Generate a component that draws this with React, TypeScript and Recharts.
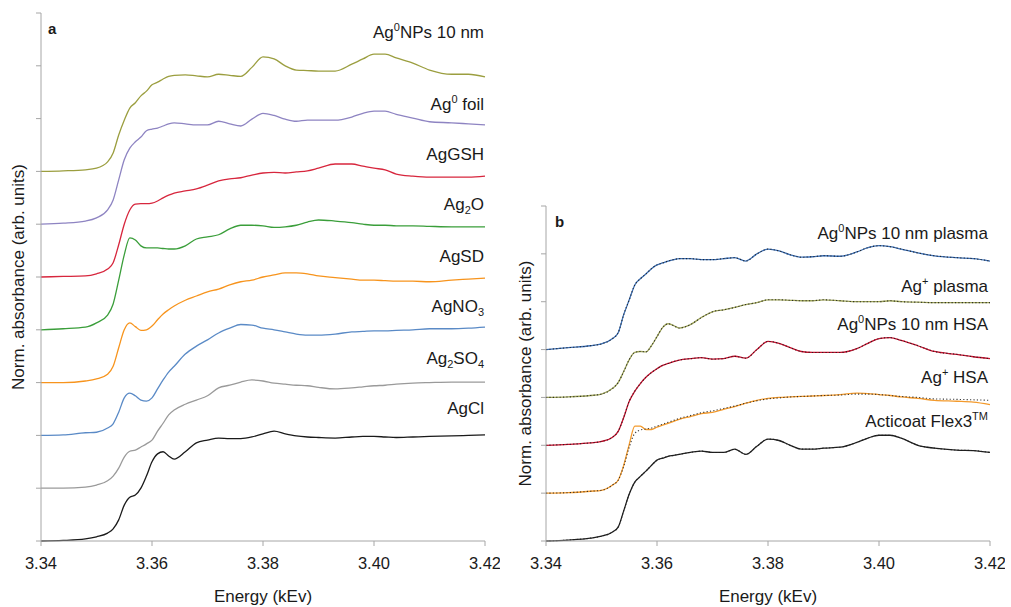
import React from "react";
import { LineChart, Line, XAxis, YAxis } from "recharts";

// energy grid (keV), shared by every spectrum
const energy = [
  3.34, 3.344, 3.348, 3.35, 3.352, 3.353, 3.354, 3.355, 3.356, 3.357, 3.358, 3.359, 3.36, 3.361,
  3.362, 3.363, 3.364, 3.366, 3.368, 3.37, 3.372, 3.374, 3.376, 3.378, 3.38, 3.382, 3.384, 3.386,
  3.388, 3.39, 3.393, 3.396, 3.398, 3.4, 3.402, 3.404, 3.407, 3.41, 3.414, 3.417, 3.42,
];

const energyTicks = [3.34, 3.36, 3.38, 3.4, 3.42];

// panel a: reference compounds (normalised absorbance)
const agNPs = [0, 0.01, 0.03, 0.06, 0.18, 0.35, 0.69, 0.97, 1.2, 1.3, 1.43, 1.52, 1.64, 1.69, 1.75, 1.8, 1.82, 1.83, 1.81, 1.79, 1.84, 1.82, 1.8, 1.97, 2.17, 2.13, 2.0, 1.92, 1.91, 1.9, 1.9, 2.03, 2.13, 2.22, 2.22, 2.15, 2.05, 1.92, 1.84, 1.84, 1.79];
const agFoil = [0, 0.02, 0.06, 0.12, 0.27, 0.46, 0.84, 1.22, 1.44, 1.56, 1.65, 1.77, 1.8, 1.82, 1.86, 1.9, 1.92, 1.9, 1.88, 1.88, 1.95, 1.9, 1.86, 1.99, 2.1, 2.06, 1.99, 1.95, 1.97, 1.97, 1.97, 2.03, 2.1, 2.14, 2.14, 2.08, 2.01, 1.94, 1.92, 1.9, 1.88];
const agGSH = [0, 0.01, 0.02, 0.06, 0.15, 0.27, 0.61, 1.0, 1.27, 1.38, 1.39, 1.39, 1.4, 1.44, 1.5, 1.55, 1.59, 1.63, 1.67, 1.74, 1.82, 1.86, 1.88, 1.93, 1.97, 1.98, 1.97, 1.99, 2.01, 2.06, 2.14, 2.14, 2.1, 2.06, 2.03, 1.95, 1.91, 1.89, 1.89, 1.89, 1.91];
const ag2O = [0, 0.02, 0.05, 0.13, 0.28, 0.49, 0.94, 1.42, 1.74, 1.7, 1.59, 1.55, 1.55, 1.55, 1.54, 1.53, 1.53, 1.59, 1.72, 1.76, 1.8, 1.91, 1.98, 1.98, 1.97, 1.94, 1.95, 1.98, 2.04, 2.08, 2.06, 2.03, 2.0, 1.98, 1.98, 1.97, 1.97, 1.96, 1.95, 1.95, 1.95];
const agSD = [0, 0, 0.03, 0.07, 0.16, 0.31, 0.66, 1.0, 1.13, 1.06, 0.99, 1.0, 1.07, 1.19, 1.3, 1.38, 1.45, 1.56, 1.64, 1.72, 1.77, 1.85, 1.91, 1.94, 2.0, 2.04, 2.08, 2.08, 2.06, 2.02, 1.99, 1.96, 1.94, 1.94, 1.93, 1.92, 1.92, 1.91, 1.94, 1.96, 1.98];
const agNO3 = [0, 0.01, 0.05, 0.06, 0.14, 0.22, 0.44, 0.71, 0.8, 0.75, 0.67, 0.65, 0.71, 0.88, 1.05, 1.2, 1.31, 1.54, 1.69, 1.81, 1.94, 2.03, 2.1, 2.09, 2.03, 2.0, 1.96, 1.92, 1.9, 1.9, 1.92, 1.96, 1.97, 1.98, 1.98, 1.99, 2.0, 2.02, 2.02, 2.03, 2.05];
const ag2SO4 = [0, 0, 0.02, 0.06, 0.14, 0.23, 0.38, 0.59, 0.7, 0.72, 0.78, 0.84, 0.91, 1.08, 1.23, 1.39, 1.48, 1.59, 1.67, 1.75, 1.9, 1.95, 2.01, 2.05, 2.03, 1.99, 1.97, 1.95, 1.94, 1.91, 1.88, 1.9, 1.92, 1.94, 1.95, 1.97, 1.99, 2.0, 2.01, 2.01, 2.01];
const agCl = [0, 0.01, 0.04, 0.08, 0.15, 0.23, 0.4, 0.68, 0.83, 0.87, 1.0, 1.23, 1.5, 1.65, 1.69, 1.61, 1.55, 1.69, 1.86, 1.91, 1.95, 1.94, 1.94, 1.97, 2.03, 2.08, 2.03, 1.99, 1.97, 1.96, 1.95, 1.97, 1.98, 1.98, 1.97, 1.96, 1.97, 1.98, 1.99, 2.0, 2.01];

// panel b: silver in biological media
const npPlasma = [0, 0.04, 0.08, 0.12, 0.23, 0.35, 0.73, 1.04, 1.35, 1.48, 1.58, 1.69, 1.77, 1.81, 1.85, 1.88, 1.9, 1.9, 1.88, 1.88, 1.9, 1.92, 1.85, 2.0, 2.1, 2.06, 1.98, 1.93, 1.94, 1.96, 1.95, 2.04, 2.13, 2.17, 2.15, 2.1, 2.02, 1.96, 1.92, 1.9, 1.85];
const ionPlasma = [0, 0.01, 0.04, 0.07, 0.19, 0.31, 0.54, 0.79, 0.94, 0.96, 0.95, 1.08, 1.27, 1.46, 1.54, 1.5, 1.45, 1.52, 1.67, 1.79, 1.83, 1.88, 1.94, 1.98, 2.04, 2.04, 2.03, 2.02, 2.02, 2.04, 2.02, 2.0, 2.0, 2.0, 2.02, 2.0, 1.99, 1.98, 1.98, 1.98, 1.98];
const npHSA = [0, 0.02, 0.05, 0.08, 0.17, 0.29, 0.58, 0.92, 1.13, 1.29, 1.42, 1.52, 1.6, 1.67, 1.71, 1.75, 1.78, 1.81, 1.83, 1.8, 1.81, 1.86, 1.82, 2.0, 2.17, 2.13, 2.04, 1.96, 1.94, 1.94, 1.94, 2.02, 2.13, 2.23, 2.25, 2.19, 2.08, 1.96, 1.9, 1.85, 1.81];
const ionHSA = [0, 0.01, 0.04, 0.06, 0.17, 0.27, 0.58, 1.02, 1.4, 1.4, 1.33, 1.33, 1.38, 1.42, 1.46, 1.5, 1.54, 1.6, 1.66, 1.69, 1.75, 1.81, 1.88, 1.94, 1.98, 2.0, 2.01, 2.02, 2.03, 2.04, 2.06, 2.09, 2.08, 2.06, 2.04, 2.01, 1.98, 1.94, 1.92, 1.9, 1.85];
const ionHSAFit = [0, 0.01, 0.04, 0.06, 0.17, 0.27, 0.56, 0.96, 1.25, 1.32, 1.34, 1.36, 1.4, 1.44, 1.48, 1.52, 1.56, 1.62, 1.68, 1.72, 1.77, 1.82, 1.88, 1.93, 1.97, 1.99, 2.01, 2.02, 2.03, 2.04, 2.05, 2.07, 2.07, 2.06, 2.04, 2.02, 2.0, 1.97, 1.96, 1.95, 1.94];
const acticoat = [0, 0.02, 0.06, 0.1, 0.19, 0.29, 0.63, 0.98, 1.23, 1.35, 1.46, 1.58, 1.69, 1.73, 1.77, 1.79, 1.81, 1.85, 1.88, 1.85, 1.85, 1.92, 1.81, 1.98, 2.13, 2.1, 2.0, 1.92, 1.92, 1.94, 1.96, 2.06, 2.15, 2.21, 2.21, 2.15, 2.0, 1.94, 1.9, 1.89, 1.85];

// stacking offsets (arb. units)
const offsetsA = { agNPs: 7, agFoil: 6, agGSH: 5, ag2O: 4, agSD: 3, agNO3: 2, ag2SO4: 1, agCl: 0 };
const offsetsB = { npPlasma: 4, ionPlasma: 3, npHSA: 2, ionHSA: 1, acticoat: 0 };

const seriesA = { agNPs, agFoil, agGSH, ag2O, agSD, agNO3, ag2SO4, agCl };
const seriesB = { npPlasma, ionPlasma, npHSA, ionHSA, acticoat };
const fitsB = { npPlasma, ionPlasma, npHSA, ionHSA: ionHSAFit, acticoat };

const colorsA: Record<string, string> = {
  agNPs: "#9b9e3f",
  agFoil: "#8e84c2",
  agGSH: "#d7263d",
  ag2O: "#3a9e3a",
  agSD: "#f7941d",
  agNO3: "#5a8ac6",
  ag2SO4: "#9a9a9a",
  agCl: "#1a1a1a",
};
const colorsB: Record<string, string> = {
  npPlasma: "#3b6fb6",
  ionPlasma: "#a0a65a",
  npHSA: "#c8102e",
  ionHSA: "#f39a2c",
  acticoat: "#222222",
};

// label text: [text, "sup" | "sub" | undefined]
type Part = [string, string?];
const labelsA: Part[][] = [
  [["Ag"], ["0", "sup"], ["NPs 10 nm"]],
  [["Ag"], ["0", "sup"], [" foil"]],
  [["AgGSH"]],
  [["Ag"], ["2", "sub"], ["O"]],
  [["AgSD"]],
  [["AgNO"], ["3", "sub"]],
  [["Ag"], ["2", "sub"], ["SO"], ["4", "sub"]],
  [["AgCl"]],
];
const labelsB: Part[][] = [
  [["Ag"], ["0", "sup"], ["NPs 10 nm plasma"]],
  [["Ag"], ["+", "sup"], [" plasma"]],
  [["Ag"], ["0", "sup"], ["NPs 10 nm HSA"]],
  [["Ag"], ["+", "sup"], [" HSA"]],
  [["Acticoat Flex3"], ["TM", "sup"]],
];
const labelYA = [37.5, 109.5, 160, 210, 262, 312, 364, 414];
const labelYB = [239, 292, 330, 383, 427];

function buildRows(series: Record<string, number[]>, offsets: Record<string, number>, suffix = "") {
  return energy.map((e, i) => {
    const row: Record<string, number> = { e };
    Object.keys(series).forEach((k) => {
      row[k + suffix] = series[k][i] + offsets[k];
    });
    return row;
  });
}

const rowsA = buildRows(seriesA, offsetsA);
const fitRowsB = buildRows(fitsB, offsetsB, "Fit");
const rowsB = buildRows(seriesB, offsetsB).map((r, i) => ({ ...r, ...fitRowsB[i] }));

const FONT = '"Liberation Sans", Arial, sans-serif';
const AXIS = "#a6a6a6";

function renderParts(parts: Part[]) {
  let shift = 0;
  return parts.map(([t, kind], i) => {
    const target = kind === "sup" ? -7 : kind === "sub" ? 4 : 0;
    const dy = target - shift;
    shift = target;
    return (
      <tspan key={i} dy={dy} fontSize={kind ? 11 : undefined}>
        {t}
      </tspan>
    );
  });
}

const SeriesLabels = ({ labels, ys, x }: { labels: Part[][]; ys: number[]; x: number }) => (
  <g>
    {labels.map((parts, i) => (
      <text key={i} x={x} y={ys[i]} textAnchor="end" fontSize={17} fill="#1a1a1a" fontFamily={FONT}>
        {renderParts(parts)}
      </text>
    ))}
  </g>
);

const xAxisProps = {
  dataKey: "e",
  type: "number" as const,
  domain: [3.34, 3.42],
  ticks: energyTicks,
  tickFormatter: (v: number) => v.toFixed(2),
  tick: { fontSize: 16.5, fill: "#1a1a1a", fontFamily: FONT },
  tickSize: 5,
  tickMargin: 11,
  axisLine: { stroke: AXIS },
  tickLine: { stroke: AXIS },
  height: 66,
  label: { value: "Energy (kEv)", position: "insideBottom" as const, offset: 5, fontSize: 17, fill: "#1a1a1a", fontFamily: FONT },
};

const noLabel = () => "";

export default function App() {
  return (
    <div style={{ position: "absolute", left: 0, top: 0, width: 1011, height: 607, background: "#fff", fontFamily: FONT }}>
      <LineChart
        width={500}
        height={607}
        data={rowsA}
        margin={{ top: 13, right: 15, bottom: 0, left: 0 }}
        style={{ position: "absolute", left: 0, top: 0 }}
      >
        <XAxis {...xAxisProps} />
        <YAxis
          type="number"
          domain={[0, 10]}
          ticks={[0, 1, 2, 3, 4, 5, 6, 7, 8, 9, 10]}
          tickFormatter={noLabel}
          tickSize={5}
          width={41}
          axisLine={{ stroke: AXIS }}
          tickLine={{ stroke: AXIS }}
          label={{ value: "Norm. absorbance (arb. units)", angle: -90, position: "center", dx: -3, fontSize: 17, fill: "#1a1a1a", fontFamily: FONT }}
        />
        {Object.keys(seriesA).map((k) => (
          <Line key={k} dataKey={k} type="monotone" stroke={colorsA[k]} strokeWidth={1.3} dot={false} isAnimationActive={false} />
        ))}
        <text x={48} y={34} fontSize={15} fontWeight="bold" fill="#1a1a1a" fontFamily={FONT}>a</text>
        <SeriesLabels labels={labelsA} ys={labelYA} x={484} />
      </LineChart>

      <LineChart
        width={500}
        height={607}
        data={rowsB}
        margin={{ top: 206, right: 15, bottom: 0, left: 0 }}
        style={{ position: "absolute", left: 505, top: 0 }}
      >
        <XAxis {...xAxisProps} />
        <YAxis
          type="number"
          domain={[0, 7]}
          ticks={[0, 1, 2, 3, 4, 5, 6, 7]}
          tickFormatter={noLabel}
          tickSize={5}
          width={41}
          axisLine={{ stroke: AXIS }}
          tickLine={{ stroke: AXIS }}
          label={{ value: "Norm. absorbance (arb. units)", angle: -90, position: "center", dx: -1, fontSize: 17, fill: "#1a1a1a", fontFamily: FONT }}
        />
        {Object.keys(seriesB).map((k) => (
          <Line key={k} dataKey={k} type="monotone" stroke={colorsB[k]} strokeWidth={1.3} dot={false} isAnimationActive={false} />
        ))}
        {Object.keys(fitsB).map((k) => (
          <Line key={k + "Fit"} dataKey={k + "Fit"} type="monotone" stroke="#1a1a1a" strokeWidth={1.1} strokeDasharray="1.2 2.2" strokeOpacity={0.85} dot={false} isAnimationActive={false} />
        ))}
        <text x={50} y={227} fontSize={15} fontWeight="bold" fill="#1a1a1a" fontFamily={FONT}>b</text>
        <SeriesLabels labels={labelsB} ys={labelYB} x={483} />
      </LineChart>
    </div>
  );
}
